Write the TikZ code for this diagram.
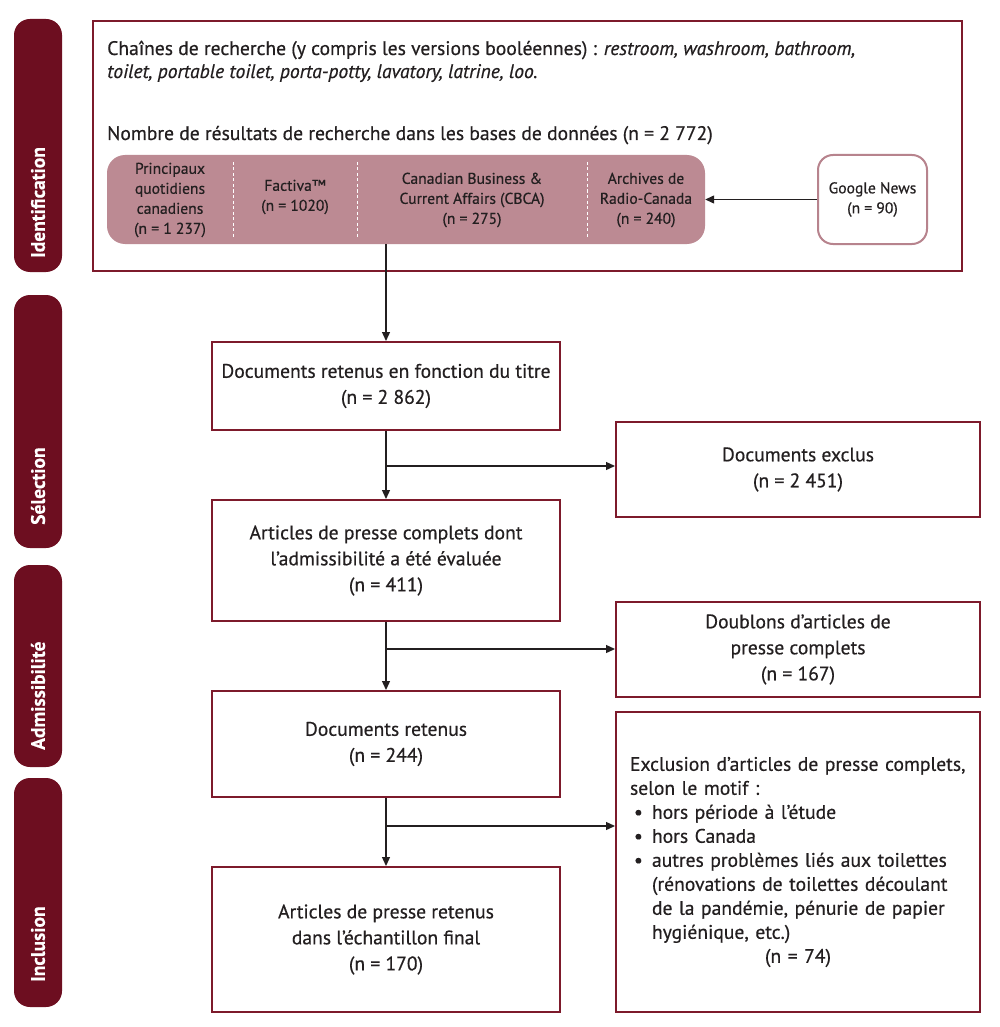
\documentclass[tikz,border=0pt]{standalone}
\usepackage{fontspec}
\setmainfont{PT Sans}[FakeBold=0.5]
\newfontfamily\sidefont{PT Sans Bold}
\usetikzlibrary{arrows.meta}
\definecolor{sidered}{HTML}{6D0E20}
\definecolor{boxred}{HTML}{7D1A2B}
\definecolor{pinkfill}{HTML}{BC8A93}
\definecolor{pinkline}{HTML}{B7838D}
\definecolor{ink}{HTML}{231F20}
\newcommand\bulitem{\makebox[22pt][l]{\hspace{4pt}•}}
\newcommand\contline{\hspace*{22pt}}
\begin{document}
\begin{tikzpicture}[x=1pt,y=-1pt,
  mainfont/.style={font=\fontsize{19.6}{26}\selectfont},
  box/.style={draw=boxred, line width=2pt, fill=white, inner sep=0pt, text=ink, align=center, mainfont},
  side/.style={fill=sidered, rounded corners=16pt, minimum width=48pt, inner sep=0pt},
  sidetext/.style={rotate=90, anchor=west, text=white, inner sep=0pt, font=\bfseries\fontsize{19.5}{22}\selectfont},
  cell/.style={align=center, text=ink, inner sep=0pt, font=\fontsize{15.6}{20}\selectfont},
  plain/.style={anchor=base west, text=ink, inner sep=0pt, mainfont},
  arr/.style={-{Triangle[length=9pt,width=8pt]}, line width=1.3pt, draw=ink},
  divider/.style={draw=white, line width=1pt, dash pattern=on 3pt off 2.5pt}
]
\useasboundingbox (0,0) rectangle (1000,1027);

% side labels
\node[side, minimum height=253pt] (sid) at (38,145.5) {};
\node[sidetext] (sidt) at (38,258) {Identification};
\node[side, minimum height=253pt] (sse) at (38,421.5) {};
\node[sidetext] (sset) at (38,525) {Sélection};
\node[side, minimum height=202pt] (sad) at (38,666) {};
\node[sidetext] (sadt) at (38,750) {Admissibilité};
\node[side, minimum height=229pt] (sin) at (38,892.5) {};
\node[sidetext] (sint) at (38,982) {Inclusion};

% identification box
\node[box, minimum width=869pt, minimum height=250pt] (idbox) at (527.5,146) {};
\node[plain] (q1) at (107,55) {Chaînes de recherche (y compris les versions booléennes) : \textit{restroom, washroom, bathroom,}};
\node[plain] (q2) at (107,78) {\textit{toilet, portable toilet, porta-potty, lavatory, latrine, loo.}};
\node[plain] (nb) at (107,140) {Nombre de résultats de recherche dans les bases de données (n = 2 772)};

\node[fill=pinkfill, rounded corners=18pt, minimum width=598pt, minimum height=89pt, inner sep=0pt] (db) at (406,199.5) {};
\draw[divider] (233,162) -- (233,238);
\draw[divider] (357,162) -- (357,238);
\draw[divider] (587,162) -- (587,238);
\node[cell] (c1) at (170,200) {Principaux\\quotidiens\\canadiens\\(n = 1 237)};
\node[cell] (c2) at (295,197) {Factiva™\\(n = 1020)};
\node[cell] (c3) at (472,200) {Canadian Business \&\\Current Affairs (CBCA)\\(n = 275)};
\node[cell] (c4) at (646,200) {Archives de\\Radio-Canada\\(n = 240)};

\node[cell, draw=pinkline, line width=2pt, fill=white, rounded corners=15pt, minimum width=109pt, minimum height=89pt] (gn) at (872.5,199.5) {Google News\\(n = 90)};

% flow boxes
\node[box, minimum width=348pt, minimum height=88pt] (titre) at (386,386) {Documents retenus en fonction du titre\\(n = 2 862)};
\node[box, minimum width=364pt, minimum height=95pt] (ex1) at (798,469.5) {Documents exclus\\(n = 2 451)};
\node[box, minimum width=348pt, minimum height=121pt] (art) at (386,560.5) {Articles de presse complets dont\\l’admissibilité a été évaluée\\(n = 411)};
\node[box, minimum width=364pt, minimum height=95pt] (ex2) at (798,649.5) {Doublons d’articles de\\presse complets\\(n = 167)};
\node[box, minimum width=348pt, minimum height=106pt] (ret) at (386,744) {Documents retenus\\(n = 244)};
\node[box, minimum width=364pt, minimum height=300pt, text width=336pt, align=left, font=\fontsize{19.6}{24}\selectfont] (ex3) at (798,862) {Exclusion d’articles de presse complets,\\
selon le motif~:\\
\bulitem hors période à l’étude\\
\bulitem hors Canada\\
\bulitem autres problèmes liés aux toilettes\\
\contline(rénovations de toilettes découlant\\
\contline de la pandémie, pénurie de papier\\
\contline hygiénique, etc.)\\
\makebox[336pt][c]{(n = 74)}};
\node[box, minimum width=348pt, minimum height=145pt] (fin) at (386,939.5) {Articles de presse retenus\\dans l’échantillon final\\(n = 170)};

% connectors
\coordinate (b1) at (386,466);
\coordinate (b2) at (386,649);
\coordinate (b3) at (386,826);
\draw[arr] (gn.west) -- (db.east);
\draw[arr] (titre.north |- db.south) -- (titre.north);
\draw[arr] (titre.south) -- (art.north);
\draw[arr] (art.south) -- (ret.north);
\draw[arr] (ret.south) -- (fin.north);
\draw[arr] (b1) -- (b1 -| ex1.west);
\draw[arr] (b2) -- (b2 -| ex2.west);
\draw[arr] (b3) -- (b3 -| ex3.west);
\end{tikzpicture}
\end{document}
